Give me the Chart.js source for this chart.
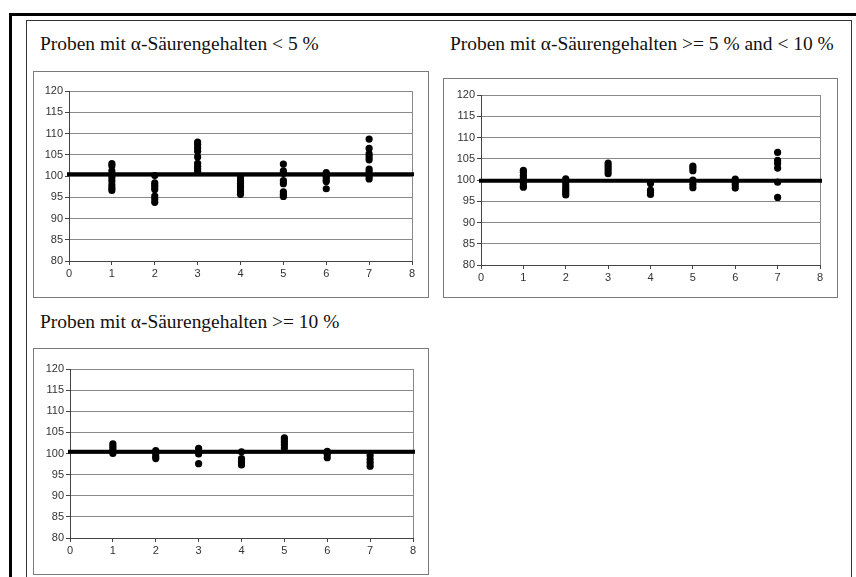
<!DOCTYPE html>
<html>
<head>
<meta charset="utf-8">
<script src="https://cdn.jsdelivr.net/npm/chart.js@4.4.1/dist/chart.umd.min.js"></script>
<style>
  html, body { margin: 0; padding: 0; background: #fff; }
  body { width: 856px; height: 577px; position: relative; overflow: hidden; }
  .frame-outer { position: absolute; left: 9px; top: 13px; width: 900px; height: 700px;
                 border-left: 3px solid #000; border-top: 3px solid #000; }
  .frame-inner { position: absolute; left: 26px; top: 20px; width: 824px; height: 700px;
                 border: 1.5px solid #333; }
  .title { position: absolute; font-family: "Liberation Serif", "Times New Roman", serif;
           font-size: 18px; color: #111; white-space: nowrap;
           transform-origin: 0 50%; transform: scaleX(1.08); }
  .box { position: absolute; border: 1px solid #7a7a7a; background: #fff; }
  .box canvas { position: absolute; left: 0; top: 0; }
</style>
</head>
<body>
<div class="frame-outer"></div>
<div class="frame-inner"></div>

<div class="title" id="t1" style="left:40px; top:34px;">Proben mit α-Säurengehalten &lt; 5 %</div>
<div class="title" id="t2" style="left:450px; top:34px;">Proben mit α-Säurengehalten &gt;= 5 % and &lt; 10 %</div>
<div class="title" id="t3" style="left:40px; top:312px;">Proben mit α-Säurengehalten &gt;= 10 %</div>

<div class="box" style="left:33px; top:71px; width:394px; height:225px;"><canvas id="c1" width="394" height="225"></canvas></div>
<div class="box" style="left:443px; top:78px; width:393px; height:218px;"><canvas id="c2" width="393" height="218"></canvas></div>
<div class="box" style="left:33px; top:348px; width:394px; height:225px;"><canvas id="c3" width="394" height="225"></canvas></div>

<script>
// Tick values shared by all three panels
const xTickValues = [0, 1, 2, 3, 4, 5, 6, 7, 8];
const yTickValues = [80, 85, 90, 95, 100, 105, 110, 115, 120];

// Measured values per sample (x = sample number 1..7), alpha acid content < 5 %
const samplesBelow5 = [
  [102.9, 102.4, 101.2, 100.3, 99.6, 98.8, 97.9, 97.2, 96.6],
  [100.1, 98.4, 97.9, 97.4, 96.8, 95.3, 94.6, 93.8],
  [108.0, 107.4, 106.6, 105.8, 104.5, 103.0, 102.3, 101.7, 101.1],
  [99.6, 98.9, 98.2, 97.6, 97.0, 96.3, 95.7],
  [102.8, 101.2, 100.6, 98.9, 98.2, 96.3, 95.7, 95.2],
  [100.8, 100.2, 99.7, 99.1, 98.7, 97.0],
  [108.7, 106.5, 105.2, 104.5, 103.8, 101.6, 101.0, 99.8, 99.3]
];
const refBelow5 = 100.4;

// alpha acid content >= 5 % and < 10 %
const samples5to10 = [
  [102.3, 101.8, 101.1, 100.5, 100.0, 99.3, 98.6, 98.3],
  [100.3, 99.6, 98.9, 98.2, 97.6, 97.0, 96.5],
  [104.0, 103.4, 102.8, 102.2, 101.5],
  [99.2, 97.6, 97.0, 96.6],
  [103.3, 102.8, 102.2, 100.0, 99.0, 98.2],
  [100.2, 99.5, 98.8, 98.1],
  [106.5, 104.6, 103.9, 102.8, 99.5, 95.9]
];
const ref5to10 = 99.8;

// alpha acid content >= 10 %
const samplesAbove10 = [
  [102.3, 101.7, 101.1, 100.5, 100.0],
  [100.7, 100.0, 99.3, 98.8],
  [101.2, 100.6, 99.9, 97.6],
  [100.4, 98.8, 98.3, 97.8, 97.3],
  [103.7, 103.2, 102.6, 102.0, 101.3],
  [100.5, 99.8, 99.0],
  [99.5, 98.6, 97.8, 97.0]
];
const refAbove10 = 100.4;

function toPoints(columns) {
  const pts = [];
  columns.forEach((vals, i) => vals.forEach(v => pts.push({ x: i + 1, y: v })));
  return pts;
}

function makeChart(id, columns, ref, geom) {
  const tickFont = { family: "'Liberation Sans', Arial, sans-serif", size: 11 };
  return new Chart(document.getElementById(id), {
    type: 'scatter',
    data: {
      datasets: [
        {
          type: 'line',
          data: [{ x: xTickValues[0], y: ref }, { x: xTickValues[xTickValues.length - 1], y: ref }],
          borderColor: '#000',
          borderWidth: 4,
          borderCapStyle: 'square',
          pointRadius: 0,
          clip: false,
          order: 0
        },
        {
          data: toPoints(columns),
          backgroundColor: '#000',
          borderColor: '#000',
          borderWidth: 0,
          pointRadius: 3.6,
          order: 1
        }
      ]
    },
    options: {
      responsive: false,
      animation: false,
      events: [],
      layout: { padding: { left: 0, right: geom.right, top: geom.top, bottom: 0 } },
      plugins: { legend: { display: false }, tooltip: { enabled: false } },
      scales: {
        x: {
          type: 'linear',
          min: 0, max: 8,
          afterBuildTicks: s => { s.ticks = xTickValues.map(v => ({ value: v })); },
          afterFit: s => { s.height = geom.xh; },
          grid: {
            color: c => (c.tick && c.tick.value === 8) ? '#8a8a8a' : 'rgba(0,0,0,0)',
            drawOnChartArea: true,
            drawTicks: true,
            tickLength: 4,
            tickColor: '#444',
            lineWidth: 1
          },
          border: { display: true, color: '#444', width: 1 },
          ticks: { color: '#333', font: tickFont, padding: 2, maxRotation: 0 }
        },
        y: {
          type: 'linear',
          min: 80, max: 120,
          afterBuildTicks: s => { s.ticks = yTickValues.map(v => ({ value: v })); },
          afterFit: s => { s.width = geom.yw; },
          grid: {
            color: '#8a8a8a',
            lineWidth: 1,
            drawTicks: true,
            tickLength: 4,
            tickColor: '#444'
          },
          border: { display: true, color: '#444', width: 1 },
          ticks: { color: '#333', font: tickFont, padding: 2 }
        }
      }
    }
  });
}

makeChart('c1', samplesBelow5, refBelow5, { yw: 35, xh: 36, right: 16, top: 19 });
makeChart('c2', samples5to10, ref5to10, { yw: 37, xh: 32, right: 17, top: 16 });
makeChart('c3', samplesAbove10, refAbove10, { yw: 36, xh: 36, right: 15, top: 20 });
</script>
</body>
</html>
